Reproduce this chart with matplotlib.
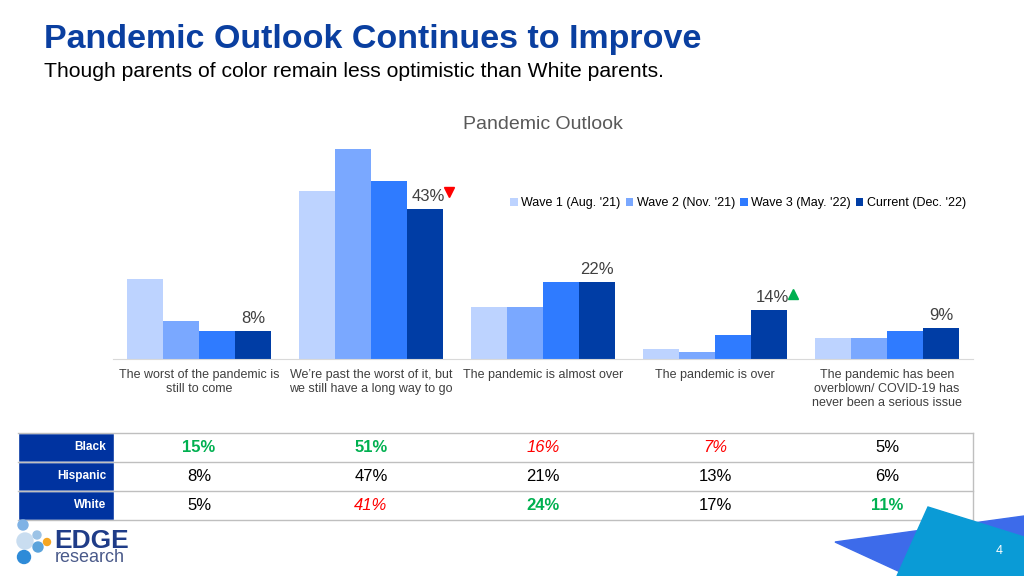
import matplotlib
matplotlib.use("Agg")
import matplotlib.pyplot as plt
from matplotlib.patches import Rectangle, Polygon, Circle
from matplotlib.transforms import blended_transform_factory
import numpy as np

plt.rcParams['font.family'] = ['Liberation Sans', 'DejaVu Sans']

categories = [
    "The worst of the pandemic is\nstill to come",
    "We\u2019re past the worst of it, but\nwe still have a long way to go",
    "The pandemic is almost over",
    "The pandemic is over",
    "The pandemic has been\noverblown/ COVID-19 has\nnever been a serious issue",
]
waves = ["Wave 1 (Aug. '21)", "Wave 2 (Nov. '21)", "Wave 3 (May. '22)", "Current (Dec. '22)"]
wave1 = [23, 48, 15, 3, 6]
wave2 = [11, 60, 15, 2, 6]
wave3 = [8, 51, 22, 7, 8]
current = [8, 43, 22, 14, 9]
# change marker next to the current label: -1 down, 1 up, 0 none
trend = [0, -1, 0, 1, 0]

groups = ["Black", "Hispanic", "White"]
table_vals = [
    ["15%", "51%", "16%", "7%", "5%"],
    ["8%", "47%", "21%", "13%", "6%"],
    ["5%", "41%", "24%", "17%", "11%"],
]
# g = higher (green bold), r = lower (red italic), n = normal
table_flags = [
    ["g", "g", "r", "r", "n"],
    ["n", "n", "n", "n", "n"],
    ["n", "r", "g", "n", "g"],
]

colors = ["#BDD3FF", "#7AA8FF", "#2F7BFF", "#003DA5"]
W, H = 1024, 576
fig = plt.figure(figsize=(W / 100, H / 100), dpi=100)

# overlay in pixel coordinates for titles, table, logo
ov = fig.add_axes([0, 0, 1, 1])
ov.set_xlim(0, W)
ov.set_ylim(H, 0)
ov.axis("off")

ax = fig.add_axes([113 / W, 1 - 359 / H, 860 / W, 220 / H])
x = np.arange(len(categories))
bw = 0.209
series = [wave1, wave2, wave3, current]
for i, (vals, c, name) in enumerate(zip(series, colors, waves)):
    ax.bar(x + (i - 1.5) * bw, vals, bw, color=c, label=name, zorder=2)

ax.set_xlim(-0.5, len(categories) - 0.5)
ax.set_ylim(0, 63)
for s in ["top", "left", "right"]:
    ax.spines[s].set_visible(False)
ax.spines["bottom"].set_color("#D9D9D9")
ax.set_yticks([])
ax.set_xticks(x)
ax.set_xticklabels(categories, fontsize=9, color="#404040", linespacing=1.2)
ax.tick_params(axis="x", length=0, pad=7.5)

for i, v in enumerate(current):
    xc = x[i] + 1.5 * bw
    shift = 0.02 if trend[i] != 0 else 0
    ax.annotate(f"{v}%", (xc + shift, v), xytext=(0, 3.5), textcoords="offset points",
                ha="center", va="bottom", fontsize=12, color="#404040")
    if trend[i] != 0:
        mk = "v" if trend[i] < 0 else "^"
        mc = "#FF0000" if trend[i] < 0 else "#00B050"
        ax.plot(xc + 0.14, v + 4.7, marker=mk, color=mc, markersize=6.5,
                clip_on=False, zorder=3)

ax.legend(loc="center left", bbox_to_anchor=(505 / W, 1 - 203 / H),
          bbox_transform=fig.transFigure, ncol=4, frameon=False, fontsize=9,
          handlelength=0.6, handleheight=0.6, handletextpad=0.3,
          columnspacing=0.4, borderaxespad=0)

# titles
ov.text(44, 48, "Pandemic Outlook Continues to Improve", fontsize=24.5,
        fontweight="bold", color="#0A3FA0", va="baseline", ha="left")
ov.text(44, 77, "Though parents of color remain less optimistic than White parents.",
        fontsize=15.2, color="#000000", va="baseline", ha="left")
ov.text(543, 129, "Pandemic Outlook", fontsize=14, color="#595959",
        va="baseline", ha="center")

# table
row_top = 433
row_h = 29
mix = blended_transform_factory(ax.transData, ov.transData)
for r, g in enumerate(groups):
    y0 = row_top + r * row_h
    ov.add_patch(Rectangle((18, y0), 96, row_h, facecolor="#0033A0",
                           edgecolor="white", linewidth=1))
    ov.text(106, y0 + row_h / 2, g, color="white", fontsize=8.5,
            fontweight="bold", ha="right", va="center")
    for c, val in enumerate(table_vals[r]):
        f = table_flags[r][c]
        kw = dict(color="#000000", fontweight="normal", style="normal")
        if f == "g":
            kw = dict(color="#00B050", fontweight="bold", style="normal")
        elif f == "r":
            kw = dict(color="#FF0000", fontweight="normal", style="italic")
        ov.text(x[c], y0 + row_h / 2, val, transform=mix, fontsize=12,
                ha="center", va="center", **kw)
for r in range(len(groups) + 1):
    yy = row_top + r * row_h
    ov.plot([18, 973], [yy, yy], color="#BFBFBF", linewidth=1, zorder=1)
ov.plot([973, 973], [row_top, row_top + 3 * row_h], color="#BFBFBF", linewidth=1)

# logo
for (cx, cy, rad, col) in [(23, 525, 5, "#7FB2E5"), (25, 541, 8, "#C9DDF0"),
                           (37, 535, 4, "#9CC3E6"), (38, 547, 5, "#5BA3DB"),
                           (47, 542, 3.5, "#F5A623"), (24, 557, 6.5, "#2E8BD8")]:
    ov.add_patch(Circle((cx, cy), rad, color=col, zorder=3))
ov.text(54, 548, "EDGE", fontsize=19, fontweight="bold", color="#1F3C88",
        va="baseline", ha="left")
ov.text(55, 562, "research", fontsize=13, color="#4A5A8A", va="baseline", ha="left")

# corner shapes and page number
ov.add_patch(Polygon([(835, 542), (1024, 516), (1024, 576), (909, 576)],
                     closed=True, color="#3D6BEA", zorder=2))
ov.add_patch(Polygon([(928, 507), (1024, 537), (1024, 576), (897, 576)],
                     closed=True, color="#0A9BD6", zorder=3))
ov.text(999, 551, "4", color="white", fontsize=9, ha="center", va="center", zorder=4)

fig.savefig("out.png", dpi=100)
